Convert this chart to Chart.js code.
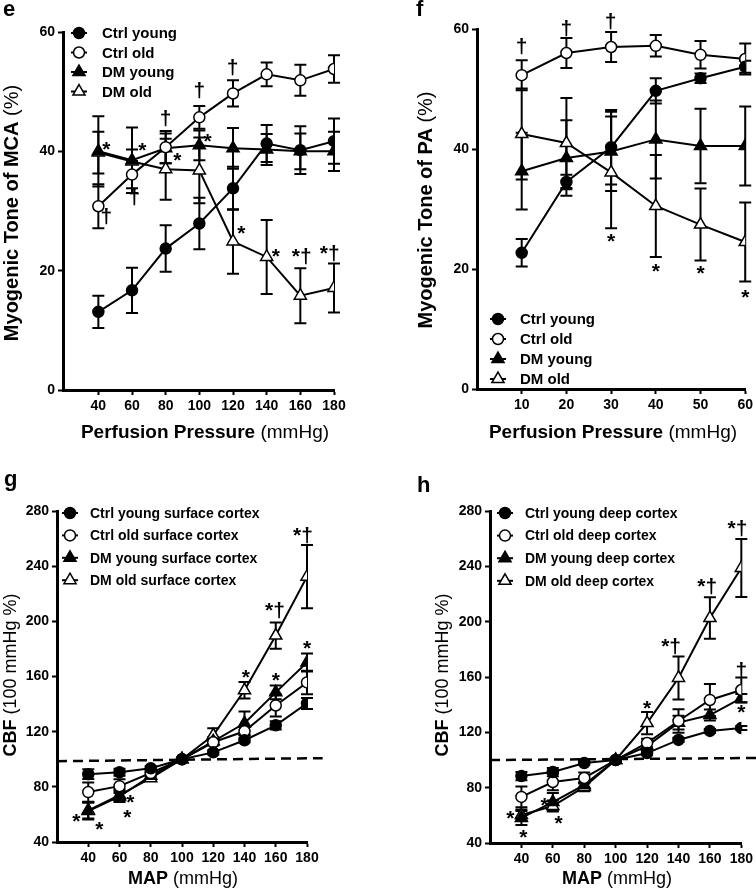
<!DOCTYPE html>
<html>
<head>
<meta charset="utf-8">
<script src="https://cdn.jsdelivr.net/npm/chart.js@4.4.0/dist/chart.umd.min.js"></script>
<style>
  body { margin: 0; background: #fff; }
  #wrap { position: relative; width: 756px; height: 892px; overflow: hidden; }
  canvas { position: absolute; }
</style>
</head>
<body>
<div id="wrap">
  <canvas id="panelE" width="378" height="446" style="left:0;top:0"></canvas>
  <canvas id="panelF" width="378" height="446" style="left:378px;top:0"></canvas>
  <canvas id="panelG" width="378" height="446" style="left:0;top:446px"></canvas>
  <canvas id="panelH" width="378" height="446" style="left:378px;top:446px"></canvas>
</div>
<script>
const FONT = "'Liberation Sans', Arial, Helvetica, sans-serif"

// e: myogenic tone of MCA
const pressureMCA = [40, 60, 80, 100, 120, 140, 160, 180]
const mcaCtrlYoung = [13.1, 16.7, 23.7, 27.9, 33.8, 41.3, 40.2, 41.7]
const mcaCtrlYoungErr = [2.7, 3.8, 3.9, 4.3, 3.6, 3.1, 4.0, 3.8]
const mcaCtrlOld = [30.8, 36.1, 40.7, 45.7, 49.7, 52.9, 51.9, 53.8]
const mcaCtrlOldErr = [3.7, 2.3, 2.7, 1.9, 2.2, 2.0, 2.6, 2.3]
const mcaDmYoung = [40.0, 38.5, 40.5, 41.0, 40.5, 40.3, 40.0, 40.0]
const mcaDmYoungErr = [5.9, 5.5, 2.5, 2.5, 3.4, 2.6, 3.0, 3.3]
const mcaDmOld = [39.8, 38.3, 37.0, 36.8, 24.9, 22.3, 15.8, 17.1]
const mcaDmOldErr = [3.5, 2.0, 5.1, 5.5, 5.4, 6.2, 4.6, 4.1]
const mcaNotes = [
  { x: 44.8, y: 41.2, t: '*' }, { x: 44.8, y: 29.1, t: '†' },
  { x: 66.2, y: 41.0, t: '*' }, { x: 61.4, y: 32.3, t: '†' },
  { x: 79.9, y: 45.4, t: '†' }, { x: 87, y: 39.3, t: '*' },
  { x: 100, y: 50.1, t: '†' }, { x: 104.9, y: 42.5, t: '*' },
  { x: 119.8, y: 54.1, t: '†' }, { x: 125, y: 27.1, t: '*' },
  { x: 145.4, y: 23.2, t: '*' }, { x: 160.8, y: 22.4, t: '*†' },
  { x: 177.5, y: 22.8, t: '*†' }
]

// f: myogenic tone of PA
const pressurePA = [10, 20, 30, 40, 50, 60]
const paCtrlYoung = [22.7, 34.5, 40.3, 49.7, 51.8, 53.7]
const paCtrlYoungErr = [2.3, 1.2, 6.2, 2.1, 0.8, 1.0]
const paCtrlOld = [52.3, 56.0, 57.0, 57.2, 55.7, 55.0]
const paCtrlOldErr = [2.5, 2.5, 2.5, 1.8, 2.3, 2.6]
const paDmYoung = [36.3, 38.5, 39.6, 41.6, 40.5, 40.5]
const paDmYoungErr = [6.4, 6.3, 6.6, 6.5, 6.2, 6.6]
const paDmOld = [42.5, 41.0, 36.1, 30.5, 27.4, 24.5]
const paDmOldErr = [7.6, 7.5, 9.3, 8.5, 6.0, 6.6]
const paNotes = [
  { x: 10, y: 57.1, t: '†' }, { x: 20, y: 60.0, t: '†' }, { x: 29.9, y: 61.2, t: '†' },
  { x: 30, y: 25.4, t: '*' }, { x: 40, y: 20.4, t: '*' },
  { x: 50, y: 20.1, t: '*' }, { x: 60, y: 16.2, t: '*' }
]

// g: CBF surface cortex
const mapSurface = [40, 60, 80, 100, 120, 140, 160, 180]
const surfCtrlYoung = [89.2, 90.6, 93.5, 100, 105, 113.8, 124.6, 140.5]
const surfCtrlYoungErr = [3.5, 2.5, 1.5, 0, 1.5, 1.5, 3, 4]
const surfCtrlOld = [76.2, 80.5, 90, 100, 112.3, 120.3, 139, 155.7]
const surfCtrlOldErr = [7, 5, 2, 0, 2, 3, 8, 8.5]
const surfDmYoung = [62.4, 73, 88, 100, 113, 126.1, 148.5, 170.2]
const surfDmYoungErr = [6, 4, 2, 0, 3, 8.5, 5, 6.5]
const surfDmOld = [63, 74, 86.3, 100, 117.4, 150, 189.7, 232.4]
const surfDmOldErr = [6, 4, 2, 0, 5, 6, 9.5, 23]
const surfNotes = [
  { x: 32.3, y: 58.8, t: '*' }, { x: 47.1, y: 53.0, t: '*' },
  { x: 67.0, y: 72.5, t: '*' }, { x: 65.0, y: 61.7, t: '*' },
  { x: 140.8, y: 163, t: '*' }, { x: 160.1, y: 160.8, t: '*' },
  { x: 159.5, y: 207.8, t: '*†' }, { x: 180, y: 184, t: '*' },
  { x: 177.4, y: 262, t: '*†' }
]

// h: CBF deep cortex
const mapDeep = [40, 60, 80, 100, 120, 140, 160, 180]
const deepCtrlYoung = [88.4, 91.3, 97.8, 100, 105, 114.5, 121, 123.1]
const deepCtrlYoungErr = [3, 3, 1.5, 0, 1.5, 1.5, 1.5, 1.5]
const deepCtrlOld = [73.3, 84.1, 87, 100, 112.3, 128.2, 143.4, 150.6]
const deepCtrlOldErr = [7.5, 6, 4, 0, 3, 8.5, 11.6, 9]
const deepDmYoung = [58.1, 69.6, 82, 100, 110, 127, 132.5, 144.8]
const deepDmYoungErr = [5, 6.5, 2, 0, 2, 5, 4, 3]
const deepDmOld = [60.2, 66.7, 80.5, 100, 126.7, 159.3, 202.6, 238.8]
const deepDmOldErr = [4, 4, 3, 0, 8, 15.5, 15, 21]
const deepNotes = [
  { x: 33, y: 61.7, t: '*' }, { x: 41.3, y: 48, t: '*' },
  { x: 54.7, y: 71.1, t: '*' }, { x: 63.7, y: 58.1, t: '*' },
  { x: 120, y: 141.2, t: '*' }, { x: 135.3, y: 181.7, t: '*†' },
  { x: 158.3, y: 225, t: '*†' }, { x: 177.5, y: 267, t: '*†' },
  { x: 180, y: 164.3, t: '†' }, { x: 180, y: 138.3, t: '*' }
]

const tickX20 = [40, 60, 80, 100, 120, 140, 160, 180]
const tickX10 = [10, 20, 30, 40, 50, 60]
const toneTicksY = [0, 20, 40, 60]
const cbfTicksY = [40, 80, 120, 160, 200, 240, 280]
const baselineX = [20, 190]
const surfBaselineY = [98.6, 100.8]
const deepBaselineY = [100, 101.5]

const toneNames = ['Ctrl young', 'Ctrl old', 'DM young', 'DM old']
const surfNames = ['Ctrl young surface cortex', 'Ctrl old surface cortex', 'DM young surface cortex', 'DM old surface cortex']
const deepNames = ['Ctrl young deep cortex', 'Ctrl old deep cortex', 'DM young deep cortex', 'DM old deep cortex']

const STYLES = [
  { shape: 'circle', fill: '#000' },
  { shape: 'circle', fill: '#fff' },
  { shape: 'triangle', fill: '#000' },
  { shape: 'triangle', fill: '#fff' }
]

function markerRadius(i) {
  return STYLES[i].shape === 'circle' ? 5.5 : 7
}

function drawMarker(ctx, i, x, y) {
  ctx.save()
  ctx.fillStyle = STYLES[i].fill
  ctx.strokeStyle = '#000'
  ctx.lineWidth = 1.5
  Chart.helpers.drawPoint(ctx, { pointStyle: STYLES[i].shape, radius: markerRadius(i), rotation: 0, borderWidth: 1.5 }, x, y)
  ctx.restore()
}

function drawMixed(ctx, parts, size, x, y, rotate) {
  ctx.save()
  ctx.translate(x, y)
  if (rotate) ctx.rotate(-Math.PI / 2)
  ctx.fillStyle = '#000'
  ctx.textBaseline = 'alphabetic'
  ctx.textAlign = 'left'
  let total = 0
  const widths = parts.map(p => {
    ctx.font = (p.bold ? 'bold ' : '') + size + 'px ' + FONT
    const w = ctx.measureText(p.text).width
    total += w
    return w
  })
  let cx = -total / 2
  parts.forEach((p, k) => {
    ctx.font = (p.bold ? 'bold ' : '') + size + 'px ' + FONT
    ctx.fillText(p.text, cx, 0)
    cx += widths[k]
  })
  ctx.restore()
}

function makeDecor(p) {
  return {
    id: 'decor',
    beforeDatasetsDraw(chart) {
      // error bars sit under the markers
      const ctx = chart.ctx
      const ys = chart.scales.y
      ctx.save()
      ctx.strokeStyle = '#000'
      ctx.lineWidth = 2
      chart.data.datasets.forEach((ds, i) => {
        if (!ds.errorBars) return
        const meta = chart.getDatasetMeta(i)
        meta.data.forEach((pt, j) => {
          const e = ds.errorBars[j]
          if (!e) return
          const v = ds.data[j].y
          const top = ys.getPixelForValue(v + e)
          const bot = ys.getPixelForValue(v - e)
          ctx.beginPath()
          ctx.moveTo(pt.x, top); ctx.lineTo(pt.x, bot)
          ctx.moveTo(pt.x - 6, top); ctx.lineTo(pt.x + 6, top)
          ctx.moveTo(pt.x - 6, bot); ctx.lineTo(pt.x + 6, bot)
          ctx.stroke()
        })
      })
      ctx.restore()
    },
    afterDatasetsDraw(chart) {
      const ctx = chart.ctx
      const size = 21
      ctx.save()
      ctx.fillStyle = '#000'
      ctx.font = 'bold ' + size + 'px ' + FONT
      ctx.textAlign = 'center'
      ctx.textBaseline = 'alphabetic'
      p.notes.forEach(n => {
        const x = chart.scales.x.getPixelForValue(n.x)
        const y = chart.scales.y.getPixelForValue(n.y)
        const shift = n.t === '*' ? 0.56 : 0.3
        ctx.fillText(n.t, x, y + size * shift)
      })
      ctx.restore()
    },
    afterDraw(chart) {
      const ctx = chart.ctx
      const a = chart.chartArea
      const lg = p.legend
      ctx.save()
      p.names.forEach((name, i) => {
        const y = a.top + lg.y0 + i * lg.dy
        const mx = a.left + lg.mx
        ctx.strokeStyle = '#000'
        ctx.lineWidth = 2
        ctx.beginPath()
        ctx.moveTo(mx - 8, y); ctx.lineTo(mx + 8, y)
        ctx.stroke()
        drawMarker(ctx, i, mx, y)
        ctx.fillStyle = '#000'
        ctx.font = 'bold ' + lg.size + 'px ' + FONT
        ctx.textAlign = 'left'
        ctx.textBaseline = 'middle'
        ctx.fillText(name, a.left + lg.tx, y + 1)
      })
      ctx.font = 'bold 22px ' + FONT
      ctx.textAlign = 'left'
      ctx.textBaseline = 'alphabetic'
      ctx.fillText(p.letter, p.letterPos[0], p.letterPos[1])
      ctx.restore()
      drawMixed(ctx, p.xTitle.parts, p.xTitle.size, p.xTitle.x, p.xTitle.y, false)
      drawMixed(ctx, p.yTitle.parts, p.yTitle.size, p.yTitle.x, p.yTitle.y, true)
    }
  }
}

function axis(min, max, ticks, fit) {
  return {
    type: 'linear',
    min: min,
    max: max,
    afterBuildTicks: s => { s.ticks = ticks.map(v => ({ value: v })) },
    afterFit: fit,
    grid: { display: true, drawOnChartArea: false, drawTicks: true, tickLength: 5, tickWidth: 2, tickColor: '#000' },
    border: { display: true, color: '#000', width: 3 },
    ticks: { color: '#000', font: { family: FONT, size: 14, weight: 'bold' }, padding: 3, autoSkip: false, maxRotation: 0 }
  }
}

function buildPanel(p) {
  const datasets = p.series.map((ys, i) => ({
    label: p.names[i],
    data: p.xs.map((x, j) => ({ x: x, y: ys[j] })),
    errorBars: p.errs[i],
    borderColor: '#000',
    borderWidth: 2,
    pointStyle: STYLES[i].shape,
    pointRadius: markerRadius(i),
    pointBackgroundColor: STYLES[i].fill,
    pointBorderColor: '#000',
    pointBorderWidth: 1.5,
    tension: 0
  }))
  if (p.baseY) {
    datasets.push({
      data: p.baseX.map((x, j) => ({ x: x, y: p.baseY[j] })),
      borderColor: '#000',
      borderWidth: 2.5,
      borderDash: [10, 6],
      pointRadius: 0,
      clip: false
    })
  }
  const el = document.getElementById(p.canvas)
  const W = el.width, H = el.height
  return new Chart(el, {
    type: 'line',
    data: { datasets: datasets },
    options: {
      responsive: false,
      animation: false,
      devicePixelRatio: 1,
      layout: { padding: { left: 0, top: p.area.top, right: W - p.area.right, bottom: 0 } },
      plugins: { legend: { display: false }, tooltip: { enabled: false } },
      scales: {
        x: axis(p.xMin, p.xMax, p.xTicks, s => { s.height = H - p.area.bottom }),
        y: axis(p.yMin, p.yMax, p.yTicks, s => { s.width = p.area.left })
      }
    },
    plugins: [makeDecor(p)]
  })
}

buildPanel({
  canvas: 'panelE', letter: 'e', letterPos: [3, 16],
  xs: pressureMCA,
  series: [mcaCtrlYoung, mcaCtrlOld, mcaDmYoung, mcaDmOld],
  errs: [mcaCtrlYoungErr, mcaCtrlOldErr, mcaDmYoungErr, mcaDmOldErr],
  names: toneNames, notes: mcaNotes,
  xMin: 19, xMax: 180, xTicks: tickX20, yMin: 0, yMax: 60, yTicks: toneTicksY,
  area: { left: 63, top: 32, right: 334, bottom: 390 },
  legend: { mx: 16, tx: 39, y0: 1, dy: 19.5, size: 15 },
  xTitle: { parts: [{ text: 'Perfusion Pressure', bold: true }, { text: ' (mmHg)' }], size: 19, x: 205, y: 438 },
  yTitle: { parts: [{ text: 'Myogenic Tone of MCA', bold: true }, { text: ' (%)' }], size: 20, x: 18, y: 213 }
})

buildPanel({
  canvas: 'panelF', letter: 'f', letterPos: [38, 16],
  xs: pressurePA,
  series: [paCtrlYoung, paCtrlOld, paDmYoung, paDmOld],
  errs: [paCtrlYoungErr, paCtrlOldErr, paDmYoungErr, paDmOldErr],
  names: toneNames, notes: paNotes,
  xMin: 0, xMax: 60, xTicks: tickX10, yMin: 0, yMax: 60, yTicks: toneTicksY,
  area: { left: 99, top: 29, right: 369, bottom: 389 },
  legend: { mx: 21, tx: 43, y0: 290, dy: 20, size: 15 },
  xTitle: { parts: [{ text: 'Perfusion Pressure', bold: true }, { text: ' (mmHg)' }], size: 19, x: 235, y: 438 },
  yTitle: { parts: [{ text: 'Myogenic Tone of PA', bold: true }, { text: ' (%)' }], size: 20, x: 54, y: 210 }
})

buildPanel({
  canvas: 'panelG', letter: 'g', letterPos: [4, 40],
  xs: mapSurface,
  series: [surfCtrlYoung, surfCtrlOld, surfDmYoung, surfDmOld],
  errs: [surfCtrlYoungErr, surfCtrlOldErr, surfDmYoungErr, surfDmOldErr],
  names: surfNames, notes: surfNotes,
  baseX: baselineX, baseY: surfBaselineY,
  xMin: 20, xMax: 180, xTicks: tickX20, yMin: 40, yMax: 280, yTicks: cbfTicksY,
  area: { left: 57, top: 65, right: 307, bottom: 396 },
  legend: { mx: 13, tx: 33, y0: 2, dy: 22.4, size: 14 },
  xTitle: { parts: [{ text: 'MAP', bold: true }, { text: ' (mmHg)' }], size: 18, x: 183, y: 438 },
  yTitle: { parts: [{ text: 'CBF', bold: true }, { text: ' (100 mmHg %)' }], size: 18, x: 16, y: 229 }
})

buildPanel({
  canvas: 'panelH', letter: 'h', letterPos: [39, 46],
  xs: mapDeep,
  series: [deepCtrlYoung, deepCtrlOld, deepDmYoung, deepDmOld],
  errs: [deepCtrlYoungErr, deepCtrlOldErr, deepDmYoungErr, deepDmOldErr],
  names: deepNames, notes: deepNotes,
  baseX: baselineX, baseY: deepBaselineY,
  xMin: 20, xMax: 180, xTicks: tickX20, yMin: 40, yMax: 280, yTicks: cbfTicksY,
  area: { left: 112, top: 65, right: 364, bottom: 397 },
  legend: { mx: 15, tx: 35, y0: 2, dy: 22.6, size: 14 },
  xTitle: { parts: [{ text: 'MAP', bold: true }, { text: ' (mmHg)' }], size: 18, x: 239, y: 438 },
  yTitle: { parts: [{ text: 'CBF', bold: true }, { text: ' (100 mmHg %)' }], size: 18, x: 70, y: 229 }
})
</script>
</body>
</html>
